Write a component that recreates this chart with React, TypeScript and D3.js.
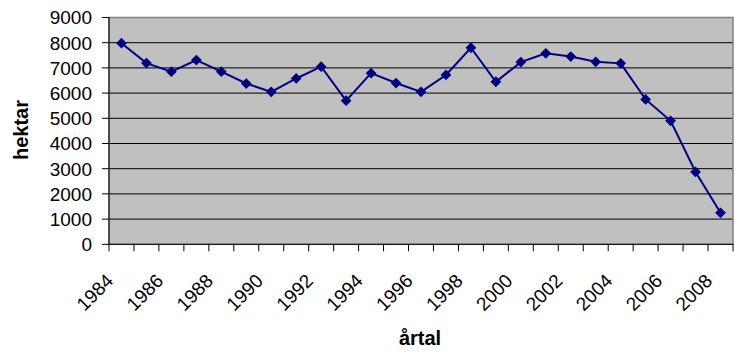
import React from "react";
import * as d3 from "d3";

const years: string[] = [
  "1984","1985","1986","1987","1988","1989","1990","1991","1992","1993","1994","1995","1996",
  "1997","1998","1999","2000","2001","2002","2003","2004","2005","2006","2007","2008",
];
const hektar: number[] = [
  7980, 7190, 6850, 7310, 6850, 6380, 6050, 6580, 7050, 5700, 6790, 6400, 6050,
  6720, 7800, 6450, 7230, 7580, 7450, 7240, 7180, 5750, 4900, 2870, 1250,
];
const yTicks: number[] = [0, 1000, 2000, 3000, 4000, 5000, 6000, 7000, 8000, 9000];
const xLabelYears: string[] = ["1984","1986","1988","1990","1992","1994","1996","1998","2000","2002","2004","2006","2008"];

const W = 735, H = 354;
const L = 109, R = 733, T = 17.5, B = 244.3;

export default function App() {
  const x = d3.scaleBand<string>().domain(years).range([L, R]).padding(0);
  const y = d3.scaleLinear().domain([0, 9000]).range([B, T]);
  const cx = (yr: string) => (x(yr) as number) + x.bandwidth() / 2;
  const line = d3.line<number>().x((_, i) => cx(years[i])).y((v) => y(v));
  const marker = d3.symbol().type(d3.symbolSquare).size(58)() as string;
  const font = "'Liberation Sans', Arial, sans-serif";
  const boundaries = years.map((yr) => x(yr) as number).concat([R]);

  return (
    <svg width={W} height={H} style={{ position: "absolute", left: 0, top: 0, background: "#fff" }}>
      <rect x={L} y={T} width={R - L} height={B - T} fill="#C0C0C0" />
      {yTicks.filter((t) => t > 0 && t < 9000).map((t) => (
        <line key={t} x1={L} x2={R} y1={y(t)} y2={y(t)} stroke="#000" strokeWidth={1} />
      ))}
      <rect x={L} y={T} width={R - L} height={B - T} fill="none" stroke="#808080" strokeWidth={1.5} />
      {/* y axis */}
      <line x1={L} x2={L} y1={T} y2={B} stroke="#000" strokeWidth={1} />
      {yTicks.map((t) => (
        <g key={t}>
          <line x1={L - 7} x2={L} y1={y(t)} y2={y(t)} stroke="#000" strokeWidth={1} />
          <text x={92} y={y(t)} dy="0.36em" textAnchor="end" fontFamily={font} fontSize={19} fill="#000">
            {t}
          </text>
        </g>
      ))}
      {/* x axis */}
      <line x1={L} x2={R} y1={B} y2={B} stroke="#000" strokeWidth={1} />
      {boundaries.map((bx, i) => (
        <line key={i} x1={bx} x2={bx} y1={B} y2={B + 7} stroke="#000" strokeWidth={1} />
      ))}
      {xLabelYears.map((yr) => (
        <text
          key={yr}
          transform={`translate(${cx(yr) - 7},${282}) rotate(-45)`}
          textAnchor="end"
          fontFamily={font}
          fontSize={19}
          fill="#000"
        >
          {yr}
        </text>
      ))}
      {/* series */}
      <path d={line(hektar) as string} fill="none" stroke="#000080" strokeWidth={2} />
      {hektar.map((v, i) => (
        <path key={i} d={marker} transform={`translate(${cx(years[i])},${y(v)}) rotate(45)`} fill="#000080" />
      ))}
      {/* titles */}
      <text transform={`translate(28,130) rotate(-90)`} textAnchor="middle" fontFamily={font} fontWeight="bold" fontSize={20} fill="#000">
        hektar
      </text>
      <text x={420} y={345} textAnchor="middle" fontFamily={font} fontWeight="bold" fontSize={20} fill="#000">
        årtal
      </text>
    </svg>
  );
}
